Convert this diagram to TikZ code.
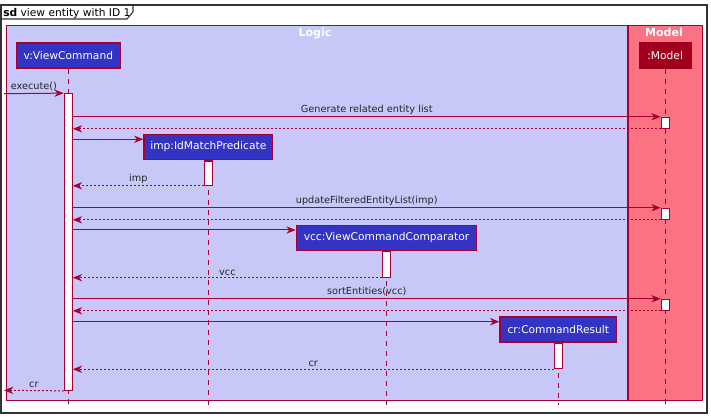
\documentclass[tikz,border=0pt]{standalone}
\usepackage{fontspec}
\setmainfont{DejaVu Sans}
\usetikzlibrary{arrows.meta,calc}
\definecolor{crim}{HTML}{A80036}
\definecolor{logicbg}{HTML}{C8C8F8}
\definecolor{modelbg}{HTML}{FB7383}
\definecolor{partbg}{HTML}{3333C4}
\definecolor{modelpart}{HTML}{A0001E}
\definecolor{framecol}{HTML}{333333}
\begin{document}
\begin{tikzpicture}[x=0.75pt,y=-0.75pt,
 part/.style={draw=crim, line width=0.9pt, fill=partbg, text=white, font=\fontsize{8}{9.6}\selectfont, inner sep=0pt, minimum height=18.75pt},
 act/.style={draw=crim, line width=0.8pt, fill=white, minimum width=6pt, inner sep=0pt},
 msg/.style={draw=crim, line width=0.75pt, -{Stealth[length=7pt,width=5.5pt,inset=2.2pt]}},
 ret/.style={msg, dash pattern=on 1.5pt off 1.5pt},
 life/.style={draw=crim, line width=0.75pt, dash pattern=on 3.75pt off 3.75pt},
 lbl/.style={font=\fontsize{7.3}{8.8}\selectfont, text=black!85, inner sep=1.5pt, above},
 grouptitle/.style={font=\fontsize{8.3}{10}\selectfont\bfseries, text=white, anchor=base}
]
\useasboundingbox (0,0) rectangle (711,417);
% frame
\draw[framecol, line width=0.8pt] (1,5) rectangle (707,413);
\draw[framecol, line width=0.8pt] (1,19) -- (127,19) -- (133,12) -- (133,5);
\node[anchor=base west, font=\fontsize{8}{9.6}\selectfont, inner sep=0pt] (title) at (3,16.5) {\textbf{sd} view entity with ID 1};
% groups
\draw[crim, line width=0.9pt, fill=logicbg] (6.3,25.3) rectangle (627.7,400.3);
\draw[crim, line width=0.9pt, fill=modelbg] (628,25.3) rectangle (702.3,400.3);
\node[grouptitle] (logict) at (315,37) {Logic};
\node[grouptitle] (modelt) at (664,37) {Model};
% participants
\node[part, minimum width=78pt] (v) at (68.3,55.5) {v:ViewCommand};
\node[part, minimum width=38.8pt, fill=modelpart, draw=modelpart] (m) at (665.2,55.5) {:Model};
\node[part, minimum width=96.5pt, minimum height=19.3pt] (imp) at (208.3,147) {imp:IdMatchPredicate};
\node[part, minimum width=135.3pt] (vcc) at (386.5,237.8) {vcc:ViewCommandComparator};
\node[part, minimum width=87.5pt] (cr) at (558.3,329.5) {cr:CommandResult};
\coordinate (bot) at (0,405);
% lifelines
\draw[life] (v.south) -- (v.south |- bot);
\draw[life] (m.south) -- (m.south |- bot);
\draw[life] (imp.south) -- (imp.south |- bot);
\draw[life] (vcc.south) -- (vcc.south |- bot);
\draw[life] (cr.south) -- (cr.south |- bot);
% activations
\node[act, minimum height=222.5pt] (actV) at (68.3,242) {};
\node[act, minimum height=8.25pt] (actM1) at (665.2,122.8) {};
\node[act, minimum height=8.25pt] (actM2) at (665.2,213.8) {};
\node[act, minimum height=8.25pt] (actM3) at (665.2,304.8) {};
\node[act, minimum height=18.2pt, anchor=north] (actI) at (imp.south) {};
\node[act, minimum height=19.3pt, anchor=north] (actVcc) at (vcc.south) {};
\node[act, minimum height=19.2pt, anchor=north] (actCr) at (cr.south) {};
% message anchors
\coordinate (start) at (4,93.7);
\coordinate (endL) at (4,390.3);
\coordinate (impIn) at ([yshift=5.8pt]imp.west);
\coordinate (vccIn) at ([yshift=5.85pt]vcc.west);
\coordinate (crIn) at ([yshift=5.85pt]cr.west);
% messages
\draw[msg] (start) -- node[lbl]{execute()} (actV.north west);
\draw[msg] (actV.east |- actM1.north) -- node[lbl]{Generate related entity list} (actM1.north west);
\draw[ret] (actM1.south west) -- (actV.east |- actM1.south);
\draw[msg] (actV.east |- impIn) -- (impIn);
\draw[ret] (actI.south west) -- node[lbl]{imp} (actV.east |- actI.south);
\draw[msg] (actV.east |- actM2.north) -- node[lbl]{updateFilteredEntityList(imp)} (actM2.north west);
\draw[ret] (actM2.south west) -- (actV.east |- actM2.south);
\draw[msg] (actV.east |- vccIn) -- (vccIn);
\draw[ret] (actVcc.south west) -- node[lbl]{vcc} (actV.east |- actVcc.south);
\draw[msg] (actV.east |- actM3.north) -- node[lbl]{sortEntities(vcc)} (actM3.north west);
\draw[ret] (actM3.south west) -- (actV.east |- actM3.south);
\draw[msg] (actV.east |- crIn) -- (crIn);
\draw[ret] (actCr.south west) -- node[lbl]{cr} (actV.east |- actCr.south);
\draw[ret] (actV.south west) -- node[lbl]{cr} (endL);
\end{tikzpicture}
\end{document}
